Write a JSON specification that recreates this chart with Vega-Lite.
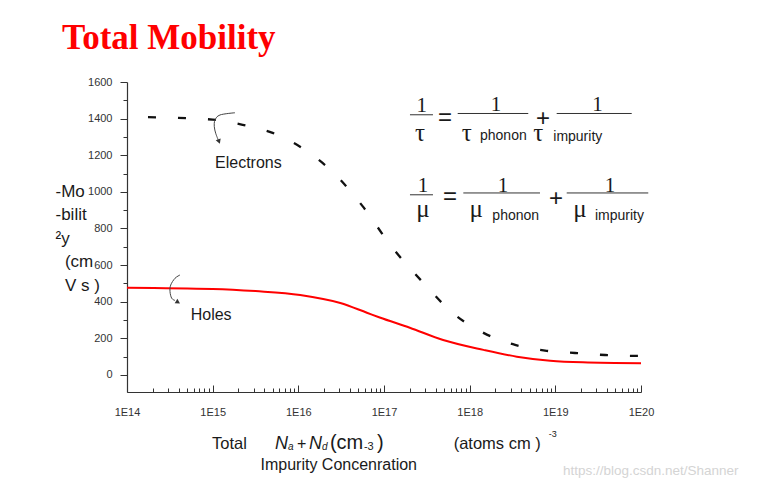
{
  "$schema": "https://vega.github.io/schema/vega-lite/v6.json",
  "width": 514,
  "height": 310,
  "autosize": {"type": "none"},
  "padding": {"left": 127, "top": 82, "right": 121, "bottom": 100},
  "background": "white",
  "config": {"view": {"stroke": null}},
  "title": {"text": "Total Mobility", "anchor": "start", "frame": "group", "dx": -65, "offset": 20, "font": "Liberation Serif", "fontSize": 35, "fontWeight": "bold", "color": "#ff0000"},
  "resolve": {"axis": {"x": "independent", "y": "independent"}},
  "datasets": {
    "electrons": [
      {"n": 1e14, "v": 1410}, {"n": 1e15, "v": 1395}, {"n": 2.24e15, "v": 1366}, {"n": 5.01e15, "v": 1322},
      {"n": 1.1e16, "v": 1240}, {"n": 2.51e16, "v": 1109}, {"n": 5.62e16, "v": 922}, {"n": 1.23e17, "v": 700},
      {"n": 2.88e17, "v": 503}, {"n": 6.46e17, "v": 335}, {"n": 1.45e18, "v": 230}, {"n": 3.39e18, "v": 164},
      {"n": 7.59e18, "v": 133}, {"n": 1.7e19, "v": 120}, {"n": 3.8e19, "v": 109}, {"n": 8.51e19, "v": 104}, {"n": 1e20, "v": 104}
    ],
    "holes": [
      {"n": 1e14, "v": 477}, {"n": 1e15, "v": 470}, {"n": 3.16e15, "v": 458}, {"n": 1.05e16, "v": 437},
      {"n": 3.09e16, "v": 393}, {"n": 6.31e16, "v": 340}, {"n": 8.91e16, "v": 314}, {"n": 2e17, "v": 258},
      {"n": 4.9e17, "v": 191}, {"n": 1.45e18, "v": 137}, {"n": 3.55e18, "v": 100},
      {"n": 8.71e18, "v": 78}, {"n": 2.09e19, "v": 69}, {"n": 1e20, "v": 64}
    ],
    "bars": [
      {"n": 2.01e17, "n2": 3.73e17, "v": 1421}, {"n": 7.25e17, "n2": 4.83e18, "v": 1428}, {"n": 1.037e19, "n2": 7.79e19, "v": 1428},
      {"n": 2.01e17, "n2": 3.73e17, "v": 984}, {"n": 8.43e17, "n2": 6.62e18, "v": 994}, {"n": 1.358e19, "n2": 1.216e20, "v": 994}
    ],
    "ones": [
      {"n": 2.754e17, "v": 1436, "t": "1"}, {"n": 2.03e18, "v": 1440, "t": "1"}, {"n": 3.1e19, "v": 1441, "t": "1"},
      {"n": 2.851e17, "v": 999, "t": "1"}, {"n": 2.45e18, "v": 999, "t": "1"}, {"n": 4.35e19, "v": 999, "t": "1"}
    ],
    "greek": [
      {"n": 2.63e17, "v": 1278, "t": "τ"}, {"n": 9.23e17, "v": 1278, "t": "τ"}, {"n": 6.32e18, "v": 1278, "t": "τ"},
      {"n": 2.851e17, "v": 863, "t": "μ"}, {"n": 1.19e18, "v": 863, "t": "μ"}, {"n": 1.94e19, "v": 863, "t": "μ"}
    ],
    "ops": [
      {"n": 5.15e17, "v": 1363, "t": "="}, {"n": 7.18e18, "v": 1358, "t": "+"},
      {"n": 5.89e17, "v": 931, "t": "="}, {"n": 1.018e19, "v": 921, "t": "+"}
    ],
    "subs": [
      {"n": 1.32e18, "v": 1285, "t": "phonon"}, {"n": 9.46e18, "v": 1278, "t": "impurity"},
      {"n": 1.84e18, "v": 848, "t": "phonon"}, {"n": 2.9e19, "v": 848, "t": "impurity"}
    ],
    "curveLabels": [
      {"n": 1.065e15, "v": 1132, "t": "Electrons"}, {"n": 5.54e14, "v": 300, "t": "Holes"}
    ],
    "arcs": [
      {"arc": "e", "k": 0, "n": 1.823e15, "v": 1432}, {"arc": "e", "k": 1, "n": 1.218e15, "v": 1420},
      {"arc": "e", "k": 2, "n": 1.065e15, "v": 1392}, {"arc": "e", "k": 3, "n": 1.045e15, "v": 1356},
      {"arc": "e", "k": 4, "n": 1.085e15, "v": 1320}, {"arc": "e", "k": 5, "n": 1.163e15, "v": 1283},
      {"arc": "h", "k": 0, "n": 4.155e14, "v": 546}, {"arc": "h", "k": 1, "n": 3.633e14, "v": 528},
      {"arc": "h", "k": 2, "n": 3.237e14, "v": 491}, {"arc": "h", "k": 3, "n": 3.177e14, "v": 455},
      {"arc": "h", "k": 4, "n": 3.325e14, "v": 419}, {"arc": "h", "k": 5, "n": 3.633e14, "v": 407}
    ],
    "arrowE": [{"n": 1.186e15, "v": 1275}],
    "arrowH": [{"n": 3.94e14, "v": 397}],
    "xt16": [
      {"n": 9.82e14, "v": -404, "t": "Total"}, {"n": 6.5e17, "v": -404, "t": "(atoms cm )"}
    ],
    "xtPlus": [{"n": 9.64e15, "v": -404, "t": "+"}],
    "xtBig": [
      {"n": 2.34e16, "v": -404, "t": "(cm"}, {"n": 8.28e16, "v": -404, "t": ")"}
    ],
    "xtN": [
      {"n": 5.34e15, "v": -404, "t": "N"}, {"n": 1.33e16, "v": -404, "t": "N"}
    ],
    "xtSub": [
      {"n": 7.57e15, "v": -410, "t": "a"}, {"n": 1.89e16, "v": -410, "t": "d"}
    ],
    "xtExp": [{"n": 5.83e16, "v": -410, "t": "-3"}],
    "xtSup": [{"n": 8.4e18, "v": -339, "t": "-3"}],
    "watermark": [{"n": 1.228e19, "v": -546, "t": "https://blog.csdn.net/Shanner"}]
  },
  "layer": [
    {
      "data": {"name": "holes"},
      "mark": {"type": "line", "color": "#ff0000", "strokeWidth": 2, "interpolate": "monotone"},
      "encoding": {
        "x": {
          "field": "n", "type": "quantitative",
          "scale": {"type": "log", "domain": [1e14, 1e20], "nice": false},
          "axis": {
            "orient": "bottom",
            "values": [1e14, 1e15, 1e16, 1e17, 1e18, 1e19, 1e20],
            "labelExpr": "'1E' + round(log(datum.value)/LN10)",
            "labelFlush": false, "labelOverlap": false,
            "labelFont": "Liberation Sans", "labelFontSize": 11, "labelColor": "#333",
            "labelBaseline": "top", "labelPadding": 21,
            "tickSize": -7, "tickColor": "#333", "tickWidth": 1,
            "domainColor": "#333", "domainWidth": 1.2,
            "grid": false,
            "title": "Impurity Concenration",
            "titleFont": "Liberation Sans", "titleFontSize": 16, "titleFontWeight": "normal", "titleColor": "#1a1a1a",
            "titleX": 133, "titleY": 77, "titleAlign": "left", "titleBaseline": "alphabetic"
          }
        },
        "y": {
          "field": "v", "type": "quantitative",
          "scale": {"domain": [-93, 1600], "nice": false, "zero": false},
          "axis": {
            "orient": "left",
            "values": [0, 200, 400, 600, 800, 1000, 1200, 1400, 1600],
            "format": "d",
            "labelFont": "Liberation Sans", "labelFontSize": 11, "labelColor": "#333",
            "labelPadding": 8,
            "tickSize": 7, "tickColor": "#333", "tickWidth": 1,
            "domainColor": "#333", "domainWidth": 1.2,
            "grid": false,
            "title": ["-Mo", "-bilit", "²y", "\u200b\u00a0\u00a0(cm", "\u200b\u00a0\u00a0V s )"],
            "titleFont": "Liberation Sans", "titleFontSize": 17, "titleFontWeight": "normal", "titleColor": "#1a1a1a",
            "titleAngle": 0, "titleAlign": "left", "titleBaseline": "alphabetic",
            "titleX": -72, "titleY": 114, "titleLineHeight": 23.5
          }
        }
      }
    },
    {
      "data": {"name": "electrons"},
      "mark": {"type": "line", "color": "#111", "strokeWidth": 2.3, "strokeDash": [8, 22], "strokeDashOffset": 9, "interpolate": "monotone"},
      "encoding": {
        "x": {
          "field": "n", "type": "quantitative",
          "axis": {
            "orient": "bottom",
            "values": [2e14,3e14,4e14,5e14,6e14,7e14,8e14,9e14,2e15,3e15,4e15,5e15,6e15,7e15,8e15,9e15,2e16,3e16,4e16,5e16,6e16,7e16,8e16,9e16,2e17,3e17,4e17,5e17,6e17,7e17,8e17,9e17,2e18,3e18,4e18,5e18,6e18,7e18,8e18,9e18,2e19,3e19,4e19,5e19,6e19,7e19,8e19,9e19],
            "labels": false, "domain": false, "grid": false, "title": null,
            "tickSize": -4, "tickColor": "#333", "tickWidth": 1
          }
        },
        "y": {
          "field": "v", "type": "quantitative",
          "axis": {
            "orient": "left",
            "values": [100, 300, 500, 700, 900, 1100, 1300, 1500],
            "labels": false, "domain": false, "grid": false, "title": null,
            "tickSize": 4, "tickColor": "#333", "tickWidth": 1
          }
        }
      }
    },
    {
      "data": {"name": "bars"},
      "mark": {"type": "rule", "color": "#333", "strokeWidth": 1},
      "encoding": {
        "x": {"field": "n", "type": "quantitative", "axis": null},
        "x2": {"field": "n2"},
        "y": {"field": "v", "type": "quantitative", "axis": null}
      }
    },
    {
      "data": {"name": "ones"},
      "mark": {"type": "text", "font": "Liberation Serif", "fontSize": 21, "color": "#1a1a1a", "align": "center", "baseline": "alphabetic"},
      "encoding": {
        "x": {"field": "n", "type": "quantitative", "axis": null},
        "y": {"field": "v", "type": "quantitative", "axis": null},
        "text": {"field": "t"}
      }
    },
    {
      "data": {"name": "greek"},
      "mark": {"type": "text", "font": "Liberation Serif", "fontSize": 25, "color": "#1a1a1a", "align": "center", "baseline": "alphabetic"},
      "encoding": {
        "x": {"field": "n", "type": "quantitative", "axis": null},
        "y": {"field": "v", "type": "quantitative", "axis": null},
        "text": {"field": "t"}
      }
    },
    {
      "data": {"name": "ops"},
      "mark": {"type": "text", "font": "Liberation Sans", "fontSize": 24, "color": "#1a1a1a", "align": "center", "baseline": "alphabetic"},
      "encoding": {
        "x": {"field": "n", "type": "quantitative", "axis": null},
        "y": {"field": "v", "type": "quantitative", "axis": null},
        "text": {"field": "t"}
      }
    },
    {
      "data": {"name": "subs"},
      "mark": {"type": "text", "font": "Liberation Sans", "fontSize": 14, "color": "#1a1a1a", "align": "left", "baseline": "alphabetic"},
      "encoding": {
        "x": {"field": "n", "type": "quantitative", "axis": null},
        "y": {"field": "v", "type": "quantitative", "axis": null},
        "text": {"field": "t"}
      }
    },
    {
      "data": {"name": "curveLabels"},
      "mark": {"type": "text", "font": "Liberation Sans", "fontSize": 16, "color": "#1a1a1a", "align": "left", "baseline": "alphabetic"},
      "encoding": {
        "x": {"field": "n", "type": "quantitative", "axis": null},
        "y": {"field": "v", "type": "quantitative", "axis": null},
        "text": {"field": "t"}
      }
    },
    {
      "data": {"name": "arcs"},
      "mark": {"type": "line", "color": "#444", "strokeWidth": 1, "interpolate": "cardinal"},
      "encoding": {
        "x": {"field": "n", "type": "quantitative", "axis": null},
        "y": {"field": "v", "type": "quantitative", "axis": null},
        "detail": {"field": "arc"},
        "order": {"field": "k", "type": "quantitative"}
      }
    },
    {
      "data": {"name": "arrowE"},
      "mark": {"type": "point", "shape": "triangle-down", "filled": true, "color": "#333", "size": 28, "angle": -21, "opacity": 1},
      "encoding": {
        "x": {"field": "n", "type": "quantitative", "axis": null},
        "y": {"field": "v", "type": "quantitative", "axis": null}
      }
    },
    {
      "data": {"name": "arrowH"},
      "mark": {"type": "point", "shape": "triangle-right", "filled": true, "color": "#333", "size": 28, "angle": 31, "opacity": 1},
      "encoding": {
        "x": {"field": "n", "type": "quantitative", "axis": null},
        "y": {"field": "v", "type": "quantitative", "axis": null}
      }
    },
    {
      "data": {"name": "xt16"},
      "mark": {"type": "text", "font": "Liberation Sans", "fontSize": 16.5, "color": "#1a1a1a", "align": "left", "baseline": "alphabetic"},
      "encoding": {
        "x": {"field": "n", "type": "quantitative", "axis": null},
        "y": {"field": "v", "type": "quantitative", "axis": null},
        "text": {"field": "t"}
      }
    },
    {
      "data": {"name": "xtPlus"},
      "mark": {"type": "text", "font": "Liberation Sans", "fontSize": 16, "color": "#1a1a1a", "align": "left", "baseline": "alphabetic"},
      "encoding": {
        "x": {"field": "n", "type": "quantitative", "axis": null},
        "y": {"field": "v", "type": "quantitative", "axis": null},
        "text": {"field": "t"}
      }
    },
    {
      "data": {"name": "xtBig"},
      "mark": {"type": "text", "font": "Liberation Sans", "fontSize": 20, "color": "#1a1a1a", "align": "left", "baseline": "alphabetic"},
      "encoding": {
        "x": {"field": "n", "type": "quantitative", "axis": null},
        "y": {"field": "v", "type": "quantitative", "axis": null},
        "text": {"field": "t"}
      }
    },
    {
      "data": {"name": "xtN"},
      "mark": {"type": "text", "font": "Liberation Sans", "fontSize": 18, "fontStyle": "italic", "color": "#1a1a1a", "align": "left", "baseline": "alphabetic"},
      "encoding": {
        "x": {"field": "n", "type": "quantitative", "axis": null},
        "y": {"field": "v", "type": "quantitative", "axis": null},
        "text": {"field": "t"}
      }
    },
    {
      "data": {"name": "xtSub"},
      "mark": {"type": "text", "font": "Liberation Sans", "fontSize": 10, "fontStyle": "italic", "color": "#1a1a1a", "align": "left", "baseline": "alphabetic"},
      "encoding": {
        "x": {"field": "n", "type": "quantitative", "axis": null},
        "y": {"field": "v", "type": "quantitative", "axis": null},
        "text": {"field": "t"}
      }
    },
    {
      "data": {"name": "xtExp"},
      "mark": {"type": "text", "font": "Liberation Sans", "fontSize": 11, "color": "#1a1a1a", "align": "left", "baseline": "alphabetic"},
      "encoding": {
        "x": {"field": "n", "type": "quantitative", "axis": null},
        "y": {"field": "v", "type": "quantitative", "axis": null},
        "text": {"field": "t"}
      }
    },
    {
      "data": {"name": "xtSup"},
      "mark": {"type": "text", "font": "Liberation Sans", "fontSize": 9, "color": "#1a1a1a", "align": "left", "baseline": "alphabetic"},
      "encoding": {
        "x": {"field": "n", "type": "quantitative", "axis": null},
        "y": {"field": "v", "type": "quantitative", "axis": null},
        "text": {"field": "t"}
      }
    },
    {
      "data": {"name": "watermark"},
      "mark": {"type": "text", "font": "Liberation Sans", "fontSize": 13.5, "color": "#d4d4d4", "align": "left", "baseline": "alphabetic"},
      "encoding": {
        "x": {"field": "n", "type": "quantitative", "axis": null},
        "y": {"field": "v", "type": "quantitative", "axis": null},
        "text": {"field": "t"}
      }
    }
  ]
}
